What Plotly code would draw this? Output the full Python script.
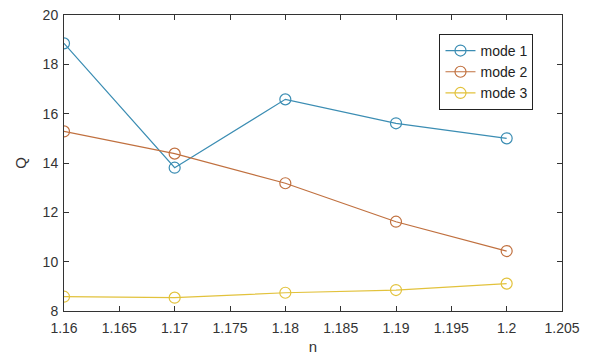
import plotly.graph_objects as go

n = [1.16, 1.17, 1.18, 1.19, 1.20]
q_mode1 = [18.85, 13.81, 16.58, 15.61, 15.00]
q_mode2 = [15.28, 14.38, 13.18, 11.62, 10.43]
q_mode3 = [8.58, 8.54, 8.74, 8.85, 9.11]

series = [
    ("mode 1", q_mode1, "#3b8db3"),
    ("mode 2", q_mode2, "#c0703f"),
    ("mode 3", q_mode3, "#e2c23c"),
]

FONT = "Liberation Sans, Arial, sans-serif"

fig = go.Figure()
for name, ys, color in series:
    fig.add_trace(go.Scatter(
        x=n, y=ys, name=name, mode="lines+markers",
        line=dict(color=color, width=1.2),
        marker=dict(symbol="circle-open", size=11, color=color, line=dict(width=1.2)),
    ))

axis_common = dict(
    showline=True, linecolor="#333333", linewidth=1, mirror="allticks",
    ticks="inside", ticklen=5, tickcolor="#333333", showgrid=False, zeroline=False,
    automargin=False,
    tickfont=dict(family=FONT, size=14, color="#333333"),
)

fig.update_layout(
    width=595, height=360,
    margin=dict(l=64, r=33, t=15, b=49),
    paper_bgcolor="white", plot_bgcolor="white",
    xaxis=dict(range=[1.16, 1.205],
               tickvals=[1.16, 1.165, 1.17, 1.175, 1.18, 1.185, 1.19, 1.195, 1.2, 1.205],
               ticktext=["1.16", "1.165", "1.17", "1.175", "1.18", "1.185", "1.19", "1.195", "1.2", "1.205"],
               ticklabelstandoff=4,
               title=dict(text="n", standoff=6, font=dict(family=FONT, size=15, color="#333333")),
               **axis_common),
    yaxis=dict(range=[8, 20], tickvals=[8, 10, 12, 14, 16, 18, 20],
               ticklabelstandoff=2,
               title=dict(text="Q", standoff=12, font=dict(family=FONT, size=15, color="#333333")),
               **axis_common),
    legend=dict(x=0.754, y=0.936, xanchor="left", yanchor="top",
                bordercolor="#222222", borderwidth=1, bgcolor="white",
                font=dict(family=FONT, size=14, color="#222222"),
                tracegroupgap=0, itemwidth=30),
    showlegend=True,
)

fig.write_html("out.html")
